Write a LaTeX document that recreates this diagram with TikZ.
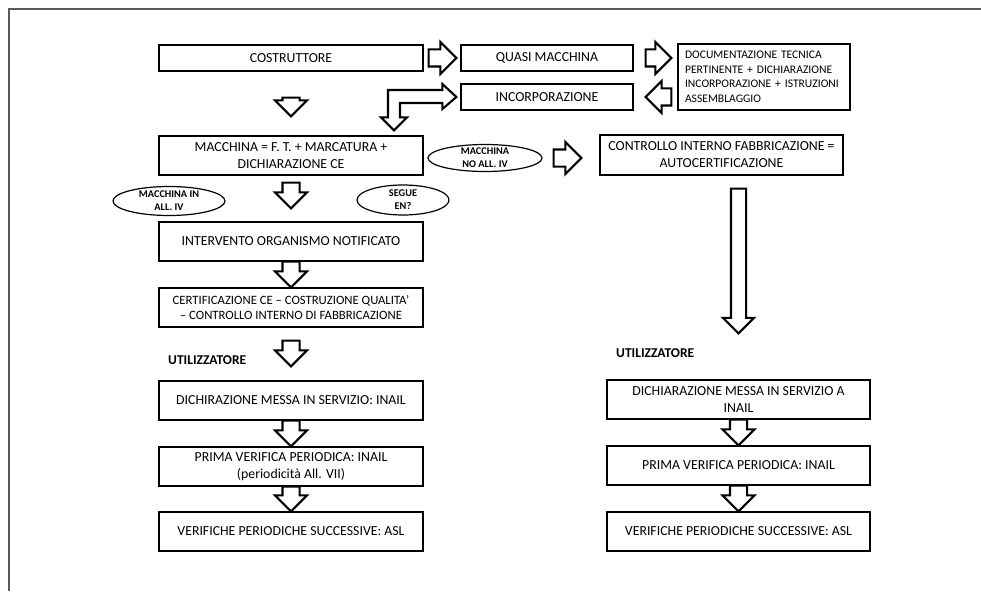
\documentclass[tikz,border=0pt]{standalone}
\usepackage{fontspec}
\setmainfont{Carlito}
\usetikzlibrary{shapes.geometric,shapes.arrows,calc}
\tikzset{
    box/.style={rectangle,draw,line width=1.2pt,minimum width=264,minimum height=39,inner sep=1pt,align=center,font=\fontsize{13.8}{17}\selectfont},
    smallbox/.style={box,minimum width=172,minimum height=26},
    oval/.style={ellipse,draw,line width=1.2pt,inner sep=-8pt,align=center,font=\bfseries\fontsize{10.3}{13}\selectfont},
    heading/.style={anchor=west,inner sep=0pt,font=\bfseries\fontsize{13.5}{15}\selectfont},
    fatarrow/.style={single arrow,draw,line width=2.1pt,inner xsep=0pt,inner ysep=7.5pt,single arrow head extend=7.5pt,single arrow tip angle=90,single arrow head indent=0pt,outer sep=0pt},
    longarrow/.style={inner ysep=6.5pt,single arrow head extend=8pt},
    bentarrow/.style={draw,line width=2.1pt,line join=miter},
    frame/.style={draw=black!65,line width=1.5pt},
}
\newcommand{\blockarrow}[4][]{%
    \path let \p1=#3, \p2=#4, \n1={veclen(\x2-\x1,\y2-\y1)}, \n2={atan2(\y2-\y1,\x2-\x1)} in
        node[fatarrow,#1,minimum height=\n1,rotate=\n2,anchor=tail] (#2) at (\p1) {};}

\begin{document}
\begin{tikzpicture}[x=1pt,y=-1pt]
		\useasboundingbox (0,0) rectangle (981,591);
		\draw[frame] (9,591) -- (9,9) -- (981,9);

		\node[box,minimum height=26] (cost) at (291,58) {COSTRUTTORE};
		\node[smallbox] (quasi) at (547,58) {QUASI MACCHINA};
		\node[smallbox] (incorp) at (547,97) {INCORPORAZIONE};
		\node[box,minimum width=172,minimum height=66,align=left,inner xsep=7pt,text width=158,font=\fontsize{11.6}{14.5}\selectfont] (doc) at (764,77) {DOCUMENTAZIONE TECNICA\\PERTINENTE + DICHIARAZIONE\\INCORPORAZIONE + ISTRUZIONI\\ASSEMBLAGGIO};
		\node[box] (macch) at (291,155.5) {MACCHINA = F. T. + MARCATURA +\\DICHIARAZIONE CE};
		\node[box,minimum width=243,minimum height=40] (ctrl) at (721.5,155) {CONTROLLO INTERNO FABBRICAZIONE =\\AUTOCERTIFICAZIONE};

		\node[oval,minimum width=112,minimum height=29] (ovin) at (169,201) {MACCHINA IN\\ALL. IV};
		\node[oval,minimum width=92,minimum height=30] (oven) at (403,200) {SEGUE\\EN?};
		\node[oval,minimum width=114,minimum height=27] (ovno) at (485,158) {MACCHINA\\NO ALL. IV};

		\node[box] (interv) at (291,241.5) {INTERVENTO ORGANISMO NOTIFICATO};
		\node[box,font=\fontsize{12.7}{15}\selectfont] (certif) at (291,307.5) {CERTIFICAZIONE CE – COSTRUZIONE QUALITA’\\– CONTROLLO INTERNO DI FABBRICAZIONE};

		\node[heading] (utill) at (168,360) {UTILIZZATORE};
		\node[heading] (utilr) at (616,353) {UTILIZZATORE};

		\node[box] (dich) at (291,400.5) {DICHIRAZIONE MESSA IN SERVIZIO: INAIL};
		\node[box] (prima) at (291,466.5) {PRIMA VERIFICA PERIODICA: INAIL\\(periodicità All. VII)};
		\node[box] (verif) at (291,531.5) {VERIFICHE PERIODICHE SUCCESSIVE: ASL};
		\node[box,minimum width=263] (dichr) at (738.5,399.5) {DICHIARAZIONE MESSA IN SERVIZIO A\\INAIL};
		\node[box,minimum width=263] (primar) at (738.5,465.5) {PRIMA VERIFICA PERIODICA: INAIL};
		\node[box,minimum width=263] (verifr) at (738.5,531.5) {VERIFICHE PERIODICHE SUCCESSIVE: ASL};

		\blockarrow{a1}{($(cost.east)+(5,0)$)}{($(quasi.west)+(-4,0)$)}
		\blockarrow{a2}{($(quasi.east)+(12,0)$)}{($(doc.west|-quasi.east)+(-6,0)$)}
		\blockarrow{a3}{($(doc.west|-incorp.east)+(-6,0)$)}{($(incorp.east)+(12,0)$)}
		\blockarrow{a4}{($(cost.south)+(0,26)$)}{($(macch.north)+(0,-19)$)}
		\blockarrow{a5}{($(macch.south)+(0,7)$)}{($(interv.north)+(0,-13)$)}
		\blockarrow{a6}{(interv.south)}{(certif.north)}
		\blockarrow{a7}{($(certif.south)+(0,13)$)}{($(dich.north)+(0,-14)$)}
		\blockarrow{a8}{(dich.south)}{(prima.north)}
		\blockarrow{a9}{(prima.south)}{(verif.north)}
		\blockarrow{a10}{($(ovno.east)+(11,0)$)}{($(ctrl.west|-ovno.east)+(-18,0)$)}
		\blockarrow[longarrow]{a11}{($(ctrl.south)+(17,13)$)}{($(dichr.north)+(0,-46)$)}
		\blockarrow{a12}{(dichr.south)}{(primar.north)}
		\blockarrow{a13}{(primar.south)}{(verifr.north)}

		\coordinate (bendr) at ($(incorp.west)+(-4,0)$);
		\coordinate (bendd) at ($(macch.north)+(103,-5)$);
		\draw[bentarrow] (bendr) -- ++(-14,-13) -- ++(0,6) -- ($(bendd|-bendr)+(-6,-7)$) -- ($(bendd)+(-6,-13)$) -- ++(-7,0) -- (bendd) -- ++(13,-13) -- ++(-7,0) -- ($(bendd|-bendr)+(6,6)$) -- ($(bendr)+(-14,6)$) -- ++(0,6) -- cycle;
	\end{tikzpicture}
\end{document}
